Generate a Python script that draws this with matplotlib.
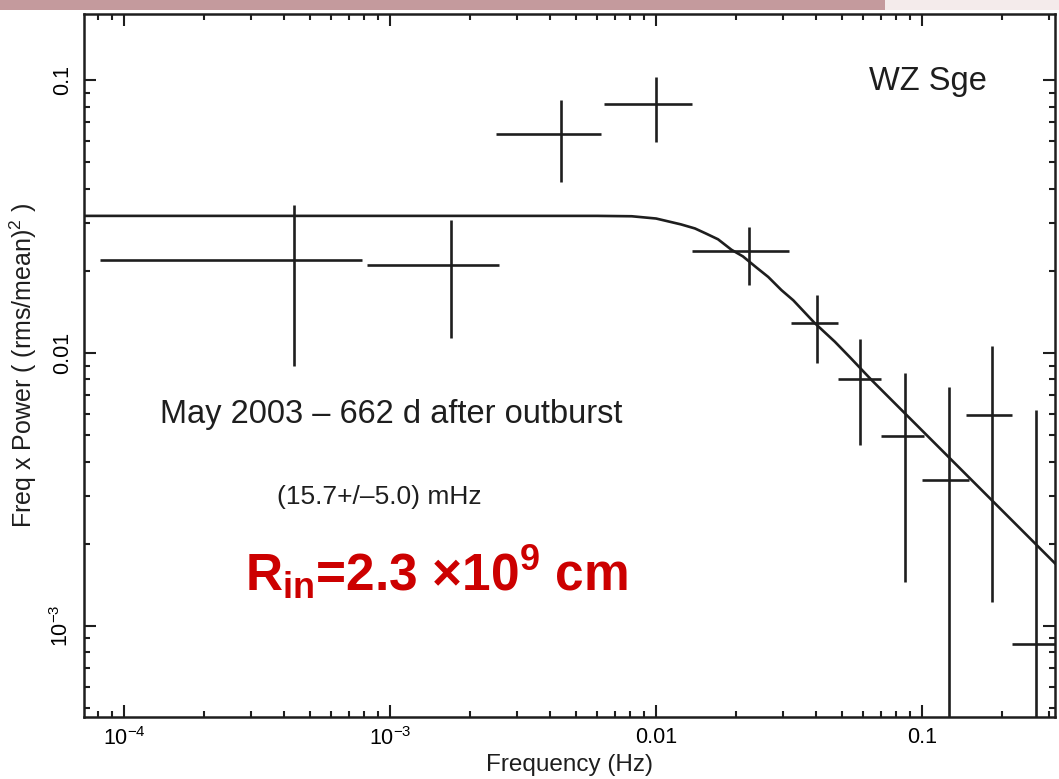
import matplotlib
matplotlib.use("Agg")
import matplotlib.pyplot as plt
from matplotlib.ticker import LogLocator, NullFormatter
from matplotlib.patches import Rectangle

plt.rcParams['font.family'] = ['Liberation Sans', 'DejaVu Sans']
plt.rcParams['mathtext.fontset'] = 'custom'
plt.rcParams['mathtext.rm'] = 'Liberation Sans'
plt.rcParams['mathtext.it'] = 'Liberation Sans:italic'
plt.rcParams['mathtext.bf'] = 'Liberation Sans:bold'

# ---- data ----
freq = [4.36e-4, 1.69e-3, 4.39e-3, 1.00e-2, 0.0224, 0.0404, 0.0582, 0.0859, 0.126, 0.183, 0.267]
freq_lo = [8.1e-5, 8.2e-4, 2.5e-3, 6.37e-3, 0.0137, 0.0322, 0.0481, 0.0703, 0.100, 0.1466, 0.2175]
freq_hi = [7.87e-4, 2.56e-3, 6.2e-3, 0.0137, 0.0317, 0.0481, 0.0703, 0.1019, 0.1496, 0.2175, 0.33]
power = [0.0219, 0.0210, 0.0634, 0.0817, 0.0237, 0.01288, 0.00804, 0.00497, 0.00343, 0.00593, 8.6e-4]
power_lo = [0.00895, 0.01135, 0.0423, 0.0593, 0.01774, 0.00918, 0.00460, 0.00145, 1e-4, 0.00122, 1e-4]
power_hi = [0.0348, 0.0307, 0.0845, 0.1026, 0.0290, 0.0163, 0.01125, 0.00845, 0.0075, 0.0106, 0.00618]

# fitted model curve
model_f = [7.0e-5, 0.0060, 0.0081, 0.0100, 0.0124, 0.0140, 0.0154, 0.0171, 0.0192, 0.0212,
           0.0238, 0.0264, 0.0296, 0.0328, 0.0394, 0.0470, 0.0536, 0.0646, 0.321]
model_p = [0.0318, 0.0318, 0.0317, 0.0311, 0.0296, 0.0286, 0.0274, 0.0261, 0.0239, 0.0226,
           0.0206, 0.0190, 0.0170, 0.0156, 0.0129, 0.0110, 0.00964, 0.00796, 0.00167]

xticks = [1e-4, 1e-3, 1e-2, 1e-1]
xticklabels = ['$10^{-4}$', '$10^{-3}$', '0.01', '0.1']
yticks = [1e-3, 1e-2, 1e-1]
yticklabels = ['$10^{-3}$', '0.01', '0.1']

W, H = 1059, 779
fig = plt.figure(figsize=(W / 100, H / 100), dpi=100)
fig.patch.set_facecolor('white')

# decorative slide band at the top
fig.patches.append(Rectangle((0, 1 - 10 / H), 885 / W, 10 / H, transform=fig.transFigure,
                             facecolor='#c49a9d', edgecolor='none', zorder=0))
fig.patches.append(Rectangle((885 / W, 1 - 10 / H), 1 - 885 / W, 10 / H, transform=fig.transFigure,
                             facecolor='#f4ebeb', edgecolor='none', zorder=0))

L, R, T, B = 84, 1055, 14, 717
ax = fig.add_axes([L / W, (H - B) / H, (R - L) / W, (B - T) / H])
ax.set_xscale('log')
ax.set_yscale('log')
ax.set_xlim(7.07e-5, 0.316)
ax.set_ylim(4.64e-4, 0.1746)

col = '#1e1e1e'
xerr = [[f - lo for f, lo in zip(freq, freq_lo)], [hi - f for f, hi in zip(freq, freq_hi)]]
yerr = [[p - lo for p, lo in zip(power, power_lo)], [hi - p for p, hi in zip(power, power_hi)]]
ax.errorbar(freq, power, xerr=xerr, yerr=yerr, fmt='none', ecolor=col, elinewidth=1.9, capsize=0)
ax.plot(model_f, model_p, color=col, lw=1.9)

for s in ax.spines.values():
    s.set_linewidth(1.8)
    s.set_color(col)

ax.set_xticks(xticks, xticklabels)
ax.set_yticks(yticks, yticklabels)
ax.xaxis.set_minor_locator(LogLocator(base=10, subs=range(2, 10), numticks=30))
ax.yaxis.set_minor_locator(LogLocator(base=10, subs=range(2, 10), numticks=30))
ax.xaxis.set_minor_formatter(NullFormatter())
ax.yaxis.set_minor_formatter(NullFormatter())
ax.tick_params(which='both', direction='in', top=True, right=True, color=col, width=1.5)
ax.tick_params(which='major', length=8.5, labelsize=15.5)
ax.tick_params(which='minor', length=4.3)
ax.tick_params(axis='x', which='major', pad=7)
ax.tick_params(axis='y', which='major', pad=8, labelrotation=90)
for lab in ax.get_yticklabels():
    lab.set_va('center')

ax.set_xlabel('Frequency (Hz)', fontsize=17.5, labelpad=3, color=col)
ax.set_ylabel('Freq x Power ( (rms/mean)$^2$ )', fontsize=18, labelpad=8, color=col)

ax.text((869 - L) / (R - L), (B - 90) / (B - T), 'WZ Sge', transform=ax.transAxes,
        fontsize=23.5, va='baseline', ha='left', color=col)
ax.text((160 - L) / (R - L), (B - 423) / (B - T), 'May 2003 – 662 d after outburst',
        transform=ax.transAxes, fontsize=23.5, va='baseline', ha='left', color=col)
ax.text((277 - L) / (R - L), (B - 504) / (B - T), '(15.7+/–5.0) mHz',
        transform=ax.transAxes, fontsize=19, va='baseline', ha='left', color=col)
ax.text((245 - L) / (R - L), (B - 592) / (B - T),
        r'R$_{\mathbf{in}}$=2.3 ×10$^{\mathbf{9}}$ cm',
        transform=ax.transAxes, fontsize=37, fontweight='bold', va='baseline', ha='left',
        color='#cc0000')

fig.savefig('out.png', dpi=100)
